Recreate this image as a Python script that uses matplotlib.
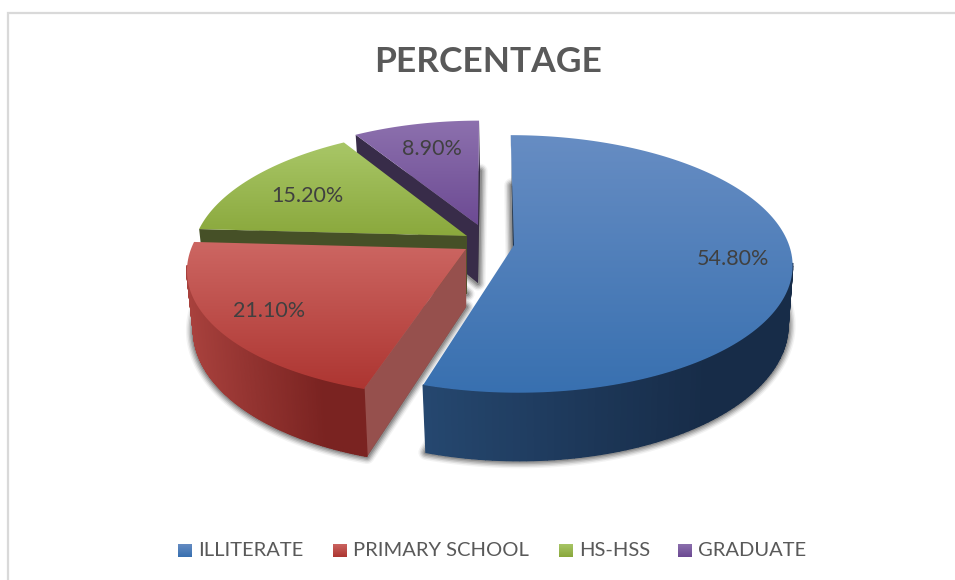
import numpy as np
import matplotlib
matplotlib.use("Agg")
import matplotlib.pyplot as plt
from matplotlib.colors import LinearSegmentedColormap, to_rgb
from matplotlib.patches import Polygon, Rectangle

categories = ["ILLITERATE", "PRIMARY SCHOOL", "HS-HSS", "GRADUATE"]
values = [54.8, 21.1, 15.2, 8.9]
labels = ["54.80%", "21.10%", "15.20%", "8.90%"]

FONT = "Lato"
W, H = 955, 580
RX, RY, P, DEPTH = 275.0, 126.0, 0.147, 58.0

# per slice layout: apex in pixels, shear, radius scale
apex = [(514, 245), (466, 249), (467, 236), (478, 225)]
shear = [0.03, -0.05, -0.05, -0.01]
rscale = [1.0, 1.0, 0.985, 0.95]
top_cols = [("#678dc3", "#3870b0"), ("#cd6763", "#ad3531"), ("#a9c768", "#8aa83c"), ("#8d71ae", "#6c4a93")]
rim_cols = [("#25476f", "#172c48"), ("#a8413d", "#7a2321"), ("#4a5528", "#4a5528"), ("#3a2d4d", "#3a2d4d")]
edge_cols = [("#1d3654", None), (None, "#96504d"), ("#465027", None), ("#382c49", None)]
label_xy = [(733, 259), (269, 311), (307, 196), (432, 149)]
legend_sq = [178, 333, 559, 678]
legend_tx = [198, 353, 579, 698]

fig = plt.figure(figsize=(W / 100, H / 100), dpi=100)
ax = fig.add_axes([0, 0, 1, 1])
ax.axis("off")


def top_pt(th, i):
    ax_, ay_ = apex[i]
    u, v = np.sin(th), -np.cos(th)
    s = rscale[i] / (1 - P * v)
    y = RY * v * s
    return np.array([ax_ + RX * u * s + shear[i] * y, ay_ + y])


def bot_pt(th, i):
    ax_, ay_ = apex[i]
    v = -np.cos(th)
    s = 1 / (1 - P * v)
    p = top_pt(th, i)
    return np.array([ax_ + (p[0] - ax_) * 0.98 + 1, p[1] + DEPTH * s])


def apex_bot(i):
    return np.array([apex[i][0], apex[i][1] + DEPTH])


# angles from the data
fracs = np.array(values) / sum(values)
edges = np.concatenate([[0], np.cumsum(fracs)]) * 2 * np.pi

# frame
ax.plot([8, 8, 955], [H, 13, 13], color="#d9d9d9", lw=1.6, zorder=1, solid_joinstyle="miter")

z = 2
for i in [3, 2, 1, 0]:
    th = np.linspace(edges[i], edges[i + 1], 160)
    topP = np.array([top_pt(t, i) for t in th])
    botP = np.array([bot_pt(t, i) for t in th])
    a0 = np.array(apex[i], float)
    b0 = apex_bot(i)

    # blurred shadow from the bottom face
    shadow = np.vstack([b0, botP])
    for lw, al in zip([11, 9, 7, 5, 3], [0.05, 0.09, 0.13, 0.16, 0.2]):
        ax.add_patch(Polygon(shadow, closed=True, fc="#202020", ec="#202020", lw=lw, alpha=al,
                             joinstyle="round", zorder=z))
    z += 1

    # flat cut walls
    if edge_cols[i][0]:
        ax.add_patch(Polygon([a0, topP[0], botP[0], b0], closed=True, fc=edge_cols[i][0],
                             ec="none", zorder=z))
    if i == 3:
        ax.add_patch(Polygon([a0, topP[-1], botP[-1], b0], closed=True, fc="#352a45",
                             ec="none", zorder=z))
    if edge_cols[i][1]:
        ax.add_patch(Polygon([a0, topP[0], botP[0], b0], closed=True, fc=edge_cols[i][1],
                             ec=edge_cols[i][1], lw=0.3, zorder=z))
    z += 1

    # curved rim wall, shaded left to right
    vis = [k for k in range(len(th) - 1) if -np.cos(th[k]) > P * 0.9]
    if vis:
        xs = topP[vis, 0]
        xmin, xmax = xs.min(), xs.max()
        c0, c1 = np.array(to_rgb(rim_cols[i][0])), np.array(to_rgb(rim_cols[i][1]))
        for k in vis:
            f = (topP[k, 0] - xmin) / max(xmax - xmin, 1)
            col = c0 + (c1 - c0) * min(1, f * 1.3)
            ax.add_patch(Polygon([topP[k], topP[k + 1], botP[k + 1], botP[k]], closed=True,
                                 fc=col, ec=col, lw=1.0, zorder=z))
    z += 1

    # top face with a vertical gradient
    outline = np.vstack([a0, topP])
    poly = Polygon(outline, closed=True, fc="none", ec="none", transform=ax.transData)
    ax.add_patch(poly)
    cmap = LinearSegmentedColormap.from_list("g", top_cols[i])
    grad = np.linspace(0, 1, 256).reshape(-1, 1)
    im = ax.imshow(grad, cmap=cmap, aspect="auto", zorder=z, interpolation="bilinear",
                   extent=[outline[:, 0].min() - 2, outline[:, 0].max() + 2,
                           outline[:, 1].max() + 1, outline[:, 1].min() - 1],
                   origin="upper")
    im.set_clip_path(poly)
    z += 1

ax.set_xlim(0, W)
ax.set_ylim(H, 0)

for (x, y), s in zip(label_xy, labels):
    ax.text(x, y, s, ha="center", va="center", fontsize=15.5, color="#404040", family=FONT, zorder=z)

ax.text(488, 62, "PERCENTAGE", ha="center", va="center", fontsize=25.5, fontweight="bold",
        color="#595959", family=FONT, zorder=z)

for i, name in enumerate(categories):
    sx = legend_sq[i]
    cmap = LinearSegmentedColormap.from_list("g", top_cols[i])
    rect = Rectangle((sx, 544), 13.5, 13.5, fc="none", ec="none")
    ax.add_patch(rect)
    im = ax.imshow(np.linspace(0, 1, 32).reshape(-1, 1), cmap=cmap, aspect="auto",
                   extent=[sx, sx + 13.5, 557.5, 544], origin="upper", zorder=z)
    im.set_clip_path(rect)
    ax.text(legend_tx[i], 551, name, ha="left", va="center", fontsize=14.5, color="#595959",
            family=FONT, zorder=z)

ax.set_xlim(0, W)
ax.set_ylim(H, 0)
fig.savefig("out.png", dpi=100, facecolor="white")
